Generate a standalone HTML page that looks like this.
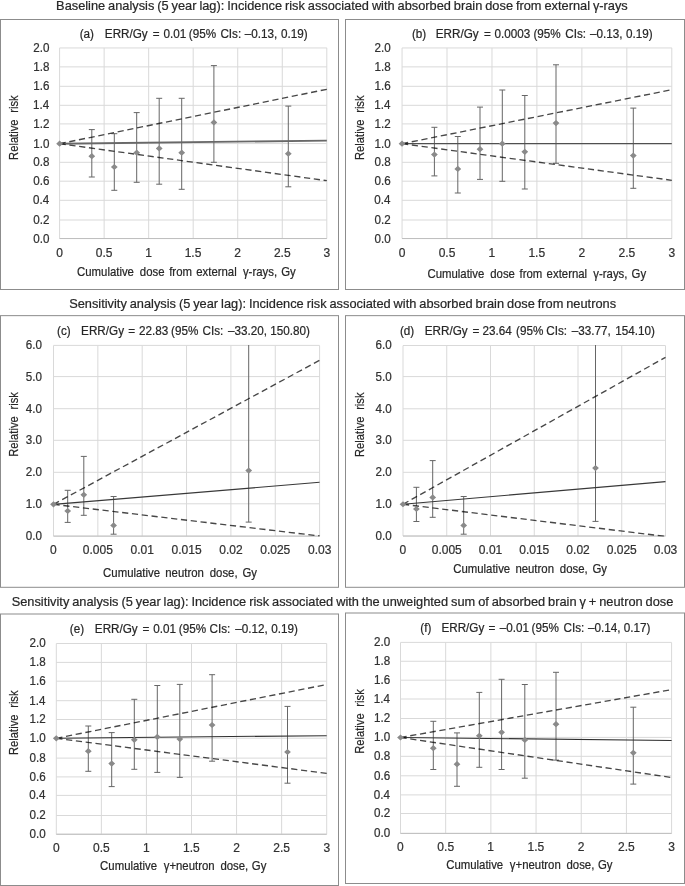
<!DOCTYPE html><html><head><meta charset="utf-8"><title>Relative risk charts</title>
<style>html,body{margin:0;padding:0;background:#fff;}svg{display:block;will-change:transform;} text{font-family:"Liberation Sans", sans-serif;stroke:#333;stroke-width:0.22px;paint-order:stroke;}</style></head><body>
<svg width="685" height="886" viewBox="0 0 685 886" font-family='"Liberation Sans", sans-serif'>
<rect x="0" y="0" width="685" height="886" fill="#fff"/>
<text transform="translate(56.10,9.80)" font-size="12.8" fill="#262626" word-spacing="-0.626">Baseline analysis (5 year lag): Incidence risk associated with absorbed brain dose from external γ-rays</text>
<text transform="translate(69.17,307.80)" font-size="12.8" fill="#262626" word-spacing="-0.610">Sensitivity analysis (5 year lag): Incidence risk associated with absorbed brain dose from neutrons</text>
<text transform="translate(11.68,605.50)" font-size="12.8" fill="#262626" word-spacing="-0.605">Sensitivity analysis (5 year lag): Incidence risk associated with the unweighted sum of absorbed brain γ + neutron dose</text>
<g id="panel-a">
<rect x="0.5" y="19.5" width="338.0" height="270.0" fill="#fff" stroke="#8c8c8c" stroke-width="1"/>
<path d="M59.60 238.60H326.80M59.60 220.00H326.80M59.60 200.30H326.80M59.60 181.20H326.80M59.60 162.30H326.80M59.60 143.60H326.80M59.60 123.90H326.80M59.60 105.30H326.80M59.60 86.30H326.80M59.60 66.86H326.80M59.60 47.95H326.80M59.60 47.90V238.50M104.13 47.90V238.50M148.67 47.90V238.50M193.20 47.90V238.50M237.73 47.90V238.50M282.27 47.90V238.50M326.80 47.90V238.50" stroke="#d9d9d9" stroke-width="1" fill="none"/>
<path d="M59.60 238.50H326.80" stroke="#bfbfbf" stroke-width="1" fill="none"/>
<text transform="translate(33.23,242.50) scale(0.97,1)" font-size="12" fill="#303030">0.0</text>
<text transform="translate(33.35,223.90) scale(0.97,1)" font-size="12" fill="#303030">0.2</text>
<text transform="translate(33.11,204.20) scale(0.97,1)" font-size="12" fill="#303030">0.4</text>
<text transform="translate(33.35,185.10) scale(0.97,1)" font-size="12" fill="#303030">0.6</text>
<text transform="translate(33.35,166.20) scale(0.97,1)" font-size="12" fill="#303030">0.8</text>
<text transform="translate(33.23,147.50) scale(0.97,1)" font-size="12" fill="#303030">1.0</text>
<text transform="translate(33.35,127.80) scale(0.97,1)" font-size="12" fill="#303030">1.2</text>
<text transform="translate(33.11,109.20) scale(0.97,1)" font-size="12" fill="#303030">1.4</text>
<text transform="translate(33.35,90.20) scale(0.97,1)" font-size="12" fill="#303030">1.6</text>
<text transform="translate(33.35,70.76) scale(0.97,1)" font-size="12" fill="#303030">1.8</text>
<text transform="translate(33.23,51.85) scale(0.97,1)" font-size="12" fill="#303030">2.0</text>
<text transform="translate(56.22,257.40)" font-size="12" fill="#303030">0</text>
<text transform="translate(95.82,257.40)" font-size="12" fill="#303030">0.5</text>
<text transform="translate(145.16,257.40)" font-size="12" fill="#303030">1</text>
<text transform="translate(184.70,257.40)" font-size="12" fill="#303030">1.5</text>
<text transform="translate(234.35,257.40)" font-size="12" fill="#303030">2</text>
<text transform="translate(273.89,257.40)" font-size="12" fill="#303030">2.5</text>
<text transform="translate(323.48,257.40)" font-size="12" fill="#303030">3</text>
<text transform="translate(79.67,38.00) scale(0.975,1)" font-size="12" fill="#262626">(a)</text>
<text transform="translate(104.83,38.00) scale(0.975,1)" font-size="12" fill="#262626"><tspan x="-0.00">ERR/Gy</tspan><tspan x="49.20">=</tspan><tspan x="60.29">0.01</tspan><tspan x="86.20">(95%</tspan><tspan x="118.53">CIs:</tspan><tspan x="143.56">–0.13,</tspan><tspan x="180.71">0.19)</tspan></text>
<text transform="translate(77.01,275.60) scale(0.95,1)" font-size="12" fill="#262626"><tspan x="0.00">Cumulative</tspan><tspan x="66.13">dose</tspan><tspan x="97.03">from</tspan><tspan x="125.49">external</tspan><tspan x="174.63">γ-rays,</tspan><tspan x="214.95">Gy</tspan></text>
<text transform="translate(18.00,159.94) rotate(-90) scale(0.935,1)" font-size="12" fill="#262626"><tspan x="0.00">Relative</tspan><tspan x="50.46">risk</tspan></text>
<defs><clipPath id="clip-a"><rect x="55.6" y="47.4" width="275.2" height="191.6"/></clipPath></defs>
<g clip-path="url(#clip-a)">
<path d="M91.80 129.60V177.00M88.80 129.60H94.80M88.80 177.00H94.80M114.30 133.70V190.30M111.30 133.70H117.30M111.30 190.30H117.30M136.70 112.60V182.30M133.70 112.60H139.70M133.70 182.30H139.70M159.20 98.30V184.20M156.20 98.30H162.20M156.20 184.20H162.20M181.70 98.30V189.30M178.70 98.30H184.70M178.70 189.30H184.70M213.90 65.60V162.30M210.90 65.60H216.90M210.90 162.30H216.90M288.30 106.10V186.80M285.30 106.10H291.30M285.30 186.80H291.30" stroke="#666666" stroke-width="1" fill="none"/>
<path d="M59.60 143.70L326.80 140.60" stroke="#686868" stroke-width="1.9" fill="none"/>
<path d="M59.60 143.70L326.80 89.30" stroke="#000" stroke-opacity="0.72" stroke-width="1.35" stroke-dasharray="6.2 3.67" fill="none"/>
<path d="M59.60 143.70L326.80 180.70" stroke="#000" stroke-opacity="0.72" stroke-width="1.35" stroke-dasharray="6.2 3.67" fill="none"/>
<path d="M59.60 140.60L63.00 143.70L59.60 146.80L56.20 143.70ZM91.80 153.10L95.20 156.20L91.80 159.30L88.40 156.20ZM114.30 163.90L117.70 167.00L114.30 170.10L110.90 167.00ZM136.70 149.60L140.10 152.70L136.70 155.80L133.30 152.70ZM159.20 145.30L162.60 148.40L159.20 151.50L155.80 148.40ZM181.70 149.60L185.10 152.70L181.70 155.80L178.30 152.70ZM213.90 119.30L217.30 122.40L213.90 125.50L210.50 122.40ZM288.30 150.60L291.70 153.70L288.30 156.80L284.90 153.70Z" fill="#8a8a8a"/>
</g>
</g>
<g id="panel-b">
<rect x="345.5" y="19.5" width="339.0" height="270.0" fill="#fff" stroke="#8c8c8c" stroke-width="1"/>
<path d="M402.05 238.60H671.80M402.05 220.00H671.80M402.05 200.30H671.80M402.05 181.20H671.80M402.05 162.30H671.80M402.05 143.60H671.80M402.05 123.90H671.80M402.05 105.30H671.80M402.05 86.30H671.80M402.05 66.86H671.80M402.05 47.95H671.80M402.05 47.90V238.50M447.01 47.90V238.50M491.97 47.90V238.50M536.92 47.90V238.50M581.88 47.90V238.50M626.84 47.90V238.50M671.80 47.90V238.50" stroke="#d9d9d9" stroke-width="1" fill="none"/>
<path d="M402.05 238.50H671.80" stroke="#bfbfbf" stroke-width="1" fill="none"/>
<text transform="translate(374.43,242.50) scale(0.97,1)" font-size="12" fill="#303030">0.0</text>
<text transform="translate(374.55,223.90) scale(0.97,1)" font-size="12" fill="#303030">0.2</text>
<text transform="translate(374.31,204.20) scale(0.97,1)" font-size="12" fill="#303030">0.4</text>
<text transform="translate(374.55,185.10) scale(0.97,1)" font-size="12" fill="#303030">0.6</text>
<text transform="translate(374.55,166.20) scale(0.97,1)" font-size="12" fill="#303030">0.8</text>
<text transform="translate(374.43,147.50) scale(0.97,1)" font-size="12" fill="#303030">1.0</text>
<text transform="translate(374.55,127.80) scale(0.97,1)" font-size="12" fill="#303030">1.2</text>
<text transform="translate(374.31,109.20) scale(0.97,1)" font-size="12" fill="#303030">1.4</text>
<text transform="translate(374.55,90.20) scale(0.97,1)" font-size="12" fill="#303030">1.6</text>
<text transform="translate(374.55,70.76) scale(0.97,1)" font-size="12" fill="#303030">1.8</text>
<text transform="translate(374.43,51.85) scale(0.97,1)" font-size="12" fill="#303030">2.0</text>
<text transform="translate(398.67,257.20)" font-size="12" fill="#303030">0</text>
<text transform="translate(438.69,257.20)" font-size="12" fill="#303030">0.5</text>
<text transform="translate(488.46,257.20)" font-size="12" fill="#303030">1</text>
<text transform="translate(528.42,257.20)" font-size="12" fill="#303030">1.5</text>
<text transform="translate(578.50,257.20)" font-size="12" fill="#303030">2</text>
<text transform="translate(618.46,257.20)" font-size="12" fill="#303030">2.5</text>
<text transform="translate(668.48,257.20)" font-size="12" fill="#303030">3</text>
<text transform="translate(411.97,38.00) scale(0.975,1)" font-size="12" fill="#262626">(b)</text>
<text transform="translate(435.82,38.00) scale(0.975,1)" font-size="12" fill="#262626"><tspan x="0.00">ERR/Gy</tspan><tspan x="49.40">=</tspan><tspan x="60.29">0.0003</tspan><tspan x="100.15">(95%</tspan><tspan x="132.68">CIs:</tspan><tspan x="158.03">–0.13,</tspan><tspan x="194.96">0.19)</tspan></text>
<text transform="translate(427.41,277.60) scale(0.95,1)" font-size="12" fill="#262626"><tspan x="0.00">Cumulative</tspan><tspan x="66.12">dose</tspan><tspan x="97.03">from</tspan><tspan x="125.49">external</tspan><tspan x="174.62">γ-rays,</tspan><tspan x="214.95">Gy</tspan></text>
<text transform="translate(364.10,160.03) rotate(-90) scale(0.935,1)" font-size="12" fill="#262626"><tspan x="0.00">Relative</tspan><tspan x="50.46">risk</tspan></text>
<defs><clipPath id="clip-b"><rect x="398.05" y="47.4" width="277.74999999999994" height="191.6"/></clipPath></defs>
<g clip-path="url(#clip-b)">
<path d="M434.40 127.30V175.90M431.40 127.30H437.40M431.40 175.90H437.40M457.80 136.50V193.00M454.80 136.50H460.80M454.80 193.00H460.80M480.00 107.10V179.40M477.00 107.10H483.00M477.00 179.40H483.00M502.30 90.00V181.30M499.30 90.00H505.30M499.30 181.30H505.30M524.80 95.50V189.00M521.80 95.50H527.80M521.80 189.00H527.80M556.00 64.80V163.30M553.00 64.80H559.00M553.00 163.30H559.00M633.30 108.10V188.30M630.30 108.10H636.30M630.30 188.30H636.30" stroke="#666666" stroke-width="1" fill="none"/>
<path d="M402.05 143.70L671.80 143.65" stroke="#505050" stroke-width="1.3" fill="none"/>
<path d="M402.05 143.70L671.80 89.70" stroke="#000" stroke-opacity="0.72" stroke-width="1.35" stroke-dasharray="6.2 3.67" fill="none"/>
<path d="M402.05 143.70L671.80 180.30" stroke="#000" stroke-opacity="0.72" stroke-width="1.35" stroke-dasharray="6.2 3.67" fill="none"/>
<path d="M402.05 140.60L405.45 143.70L402.05 146.80L398.65 143.70ZM434.40 151.50L437.80 154.60L434.40 157.70L431.00 154.60ZM457.80 165.80L461.20 168.90L457.80 172.00L454.40 168.90ZM480.00 146.10L483.40 149.20L480.00 152.30L476.60 149.20ZM502.30 140.60L505.70 143.70L502.30 146.80L498.90 143.70ZM524.80 148.70L528.20 151.80L524.80 154.90L521.40 151.80ZM556.00 120.00L559.40 123.10L556.00 126.20L552.60 123.10ZM633.30 152.50L636.70 155.60L633.30 158.70L629.90 155.60Z" fill="#8a8a8a"/>
</g>
</g>
<g id="panel-c">
<rect x="0.5" y="315.65" width="338.0" height="271.65" fill="#fff" stroke="#8c8c8c" stroke-width="1"/>
<path d="M53.50 536.20H319.60M53.50 503.80H319.60M53.50 472.30H319.60M53.50 440.30H319.60M53.50 408.70H319.60M53.50 376.60H319.60M53.50 345.40H319.60M53.50 345.50V536.10M97.85 345.50V536.10M142.20 345.50V536.10M186.55 345.50V536.10M230.90 345.50V536.10M275.25 345.50V536.10M319.60 345.50V536.10" stroke="#d9d9d9" stroke-width="1" fill="none"/>
<path d="M53.50 536.10H319.60" stroke="#bfbfbf" stroke-width="1" fill="none"/>
<text transform="translate(25.83,540.10) scale(0.97,1)" font-size="12" fill="#303030">0.0</text>
<text transform="translate(25.83,507.70) scale(0.97,1)" font-size="12" fill="#303030">1.0</text>
<text transform="translate(25.83,476.20) scale(0.97,1)" font-size="12" fill="#303030">2.0</text>
<text transform="translate(25.83,444.20) scale(0.97,1)" font-size="12" fill="#303030">3.0</text>
<text transform="translate(25.83,412.60) scale(0.97,1)" font-size="12" fill="#303030">4.0</text>
<text transform="translate(25.83,380.50) scale(0.97,1)" font-size="12" fill="#303030">5.0</text>
<text transform="translate(25.83,349.30) scale(0.97,1)" font-size="12" fill="#303030">6.0</text>
<text transform="translate(50.12,554.20)" font-size="12" fill="#303030">0</text>
<text transform="translate(82.85,554.20)" font-size="12" fill="#303030">0.005</text>
<text transform="translate(130.57,554.20)" font-size="12" fill="#303030">0.01</text>
<text transform="translate(171.55,554.20)" font-size="12" fill="#303030">0.015</text>
<text transform="translate(219.27,554.20)" font-size="12" fill="#303030">0.02</text>
<text transform="translate(260.25,554.20)" font-size="12" fill="#303030">0.025</text>
<text transform="translate(307.97,554.20)" font-size="12" fill="#303030">0.03</text>
<text transform="translate(57.07,335.00) scale(0.975,1)" font-size="12" fill="#262626">(c)</text>
<text transform="translate(81.12,335.00) scale(0.975,1)" font-size="12" fill="#262626"><tspan x="-0.00">ERR/Gy</tspan><tspan x="48.27">=</tspan><tspan x="59.45">22.83</tspan><tspan x="92.25">(95%</tspan><tspan x="124.58">CIs:</tspan><tspan x="150.74">–33.20,</tspan><tspan x="194.07">150.80)</tspan></text>
<text transform="translate(103.11,577.10) scale(0.95,1)" font-size="12" fill="#262626"><tspan x="0.00">Cumulative</tspan><tspan x="65.45">neutron</tspan><tspan x="112.23">dose,</tspan><tspan x="146.63">Gy</tspan></text>
<text transform="translate(18.00,456.74) rotate(-90) scale(0.935,1)" font-size="12" fill="#262626"><tspan x="0.00">Relative</tspan><tspan x="50.46">risk</tspan></text>
<defs><clipPath id="clip-c"><rect x="49.5" y="345.0" width="274.1" height="191.60000000000002"/></clipPath></defs>
<g clip-path="url(#clip-c)">
<path d="M67.70 490.30V522.40M64.70 490.30H70.70M64.70 522.40H70.70M83.80 456.40V515.30M80.80 456.40H86.80M80.80 515.30H86.80M113.60 496.50V534.20M110.60 496.50H116.60M110.60 534.20H116.60M248.70 343.50V522.10M245.70 522.10H251.70" stroke="#666666" stroke-width="1" fill="none"/>
<path d="M53.50 504.33L319.60 482.30" stroke="#383838" stroke-width="1.15" fill="none"/>
<path d="M53.50 504.33L319.60 360.30" stroke="#000" stroke-opacity="0.72" stroke-width="1.35" stroke-dasharray="6.2 3.67" fill="none"/>
<path d="M53.50 504.33L319.60 535.97" stroke="#000" stroke-opacity="0.72" stroke-width="1.35" stroke-dasharray="6.2 3.67" fill="none"/>
<path d="M53.50 501.23L56.90 504.33L53.50 507.43L50.10 504.33ZM67.70 507.90L71.10 511.00L67.70 514.10L64.30 511.00ZM83.80 491.70L87.20 494.80L83.80 497.90L80.40 494.80ZM113.60 522.30L117.00 525.40L113.60 528.50L110.20 525.40ZM248.70 467.50L252.10 470.60L248.70 473.70L245.30 470.60Z" fill="#8a8a8a"/>
</g>
</g>
<g id="panel-d">
<rect x="345.5" y="315.65" width="339.0" height="271.65" fill="#fff" stroke="#8c8c8c" stroke-width="1"/>
<path d="M403.00 536.10H665.50M403.00 503.80H665.50M403.00 472.30H665.50M403.00 440.30H665.50M403.00 408.80H665.50M403.00 376.60H665.50M403.00 345.50H665.50M403.00 345.60V536.00M446.75 345.60V536.00M490.50 345.60V536.00M534.25 345.60V536.00M578.00 345.60V536.00M621.75 345.60V536.00M665.50 345.60V536.00" stroke="#d9d9d9" stroke-width="1" fill="none"/>
<path d="M403.00 536.00H665.50" stroke="#bfbfbf" stroke-width="1" fill="none"/>
<text transform="translate(375.43,540.00) scale(0.97,1)" font-size="12" fill="#303030">0.0</text>
<text transform="translate(375.43,507.70) scale(0.97,1)" font-size="12" fill="#303030">1.0</text>
<text transform="translate(375.43,476.20) scale(0.97,1)" font-size="12" fill="#303030">2.0</text>
<text transform="translate(375.43,444.20) scale(0.97,1)" font-size="12" fill="#303030">3.0</text>
<text transform="translate(375.43,412.70) scale(0.97,1)" font-size="12" fill="#303030">4.0</text>
<text transform="translate(375.43,380.50) scale(0.97,1)" font-size="12" fill="#303030">5.0</text>
<text transform="translate(375.43,349.40) scale(0.97,1)" font-size="12" fill="#303030">6.0</text>
<text transform="translate(399.62,554.10)" font-size="12" fill="#303030">0</text>
<text transform="translate(431.75,554.10)" font-size="12" fill="#303030">0.005</text>
<text transform="translate(478.87,554.10)" font-size="12" fill="#303030">0.01</text>
<text transform="translate(519.25,554.10)" font-size="12" fill="#303030">0.015</text>
<text transform="translate(566.37,554.10)" font-size="12" fill="#303030">0.02</text>
<text transform="translate(606.75,554.10)" font-size="12" fill="#303030">0.025</text>
<text transform="translate(653.87,554.10)" font-size="12" fill="#303030">0.03</text>
<text transform="translate(399.97,335.00) scale(0.975,1)" font-size="12" fill="#262626">(d)</text>
<text transform="translate(424.72,335.00) scale(0.975,1)" font-size="12" fill="#262626"><tspan x="0.00">ERR/Gy</tspan><tspan x="48.89">=</tspan><tspan x="59.35">23.64</tspan><tspan x="93.69">(95%</tspan><tspan x="124.58">CIs:</tspan><tspan x="150.74">–33.77,</tspan><tspan x="195.51">154.10)</tspan></text>
<text transform="translate(453.21,572.70) scale(0.95,1)" font-size="12" fill="#262626"><tspan x="0.00">Cumulative</tspan><tspan x="65.45">neutron</tspan><tspan x="112.23">dose,</tspan><tspan x="146.63">Gy</tspan></text>
<text transform="translate(364.30,457.04) rotate(-90) scale(0.935,1)" font-size="12" fill="#262626"><tspan x="0.00">Relative</tspan><tspan x="50.46">risk</tspan></text>
<defs><clipPath id="clip-d"><rect x="399.0" y="345.1" width="270.5" height="191.39999999999998"/></clipPath></defs>
<g clip-path="url(#clip-d)">
<path d="M416.40 487.30V521.50M413.40 487.30H419.40M413.40 521.50H419.40M432.70 460.60V517.30M429.70 460.60H435.70M429.70 517.30H435.70M463.70 496.50V534.20M460.70 496.50H466.70M460.70 534.20H466.70M595.50 343.60V521.40M592.50 521.40H598.50" stroke="#666666" stroke-width="1" fill="none"/>
<path d="M403.00 504.27L665.50 481.60" stroke="#383838" stroke-width="1.15" fill="none"/>
<path d="M403.00 504.27L665.50 357.30" stroke="#000" stroke-opacity="0.72" stroke-width="1.35" stroke-dasharray="6.2 3.67" fill="none"/>
<path d="M403.00 504.27L665.50 536.41" stroke="#000" stroke-opacity="0.72" stroke-width="1.35" stroke-dasharray="6.2 3.67" fill="none"/>
<path d="M403.00 501.17L406.40 504.27L403.00 507.37L399.60 504.27ZM416.40 505.90L419.80 509.00L416.40 512.10L413.00 509.00ZM432.70 494.30L436.10 497.40L432.70 500.50L429.30 497.40ZM463.70 522.30L467.10 525.40L463.70 528.50L460.30 525.40ZM595.50 465.00L598.90 468.10L595.50 471.20L592.10 468.10Z" fill="#8a8a8a"/>
</g>
</g>
<g id="panel-e">
<rect x="0.5" y="614.0" width="338.0" height="271.5" fill="#fff" stroke="#8c8c8c" stroke-width="1"/>
<path d="M56.30 834.10H326.70M56.30 815.50H326.70M56.30 795.40H326.70M56.30 776.90H326.70M56.30 758.10H326.70M56.30 738.20H326.70M56.30 719.50H326.70M56.30 700.70H326.70M56.30 681.20H326.70M56.30 662.40H326.70M56.30 643.50H326.70M56.30 643.50V834.30M101.37 643.50V834.30M146.43 643.50V834.30M191.50 643.50V834.30M236.57 643.50V834.30M281.63 643.50V834.30M326.70 643.50V834.30" stroke="#d9d9d9" stroke-width="1" fill="none"/>
<path d="M56.30 834.30H326.70" stroke="#bfbfbf" stroke-width="1" fill="none"/>
<text transform="translate(29.43,838.00) scale(0.97,1)" font-size="12" fill="#303030">0.0</text>
<text transform="translate(29.55,819.40) scale(0.97,1)" font-size="12" fill="#303030">0.2</text>
<text transform="translate(29.31,799.30) scale(0.97,1)" font-size="12" fill="#303030">0.4</text>
<text transform="translate(29.55,780.80) scale(0.97,1)" font-size="12" fill="#303030">0.6</text>
<text transform="translate(29.55,762.00) scale(0.97,1)" font-size="12" fill="#303030">0.8</text>
<text transform="translate(29.43,742.10) scale(0.97,1)" font-size="12" fill="#303030">1.0</text>
<text transform="translate(29.55,723.40) scale(0.97,1)" font-size="12" fill="#303030">1.2</text>
<text transform="translate(29.31,704.60) scale(0.97,1)" font-size="12" fill="#303030">1.4</text>
<text transform="translate(29.55,685.10) scale(0.97,1)" font-size="12" fill="#303030">1.6</text>
<text transform="translate(29.55,666.30) scale(0.97,1)" font-size="12" fill="#303030">1.8</text>
<text transform="translate(29.43,647.40) scale(0.97,1)" font-size="12" fill="#303030">2.0</text>
<text transform="translate(52.92,852.10)" font-size="12" fill="#303030">0</text>
<text transform="translate(93.05,852.10)" font-size="12" fill="#303030">0.5</text>
<text transform="translate(142.93,852.10)" font-size="12" fill="#303030">1</text>
<text transform="translate(183.00,852.10)" font-size="12" fill="#303030">1.5</text>
<text transform="translate(233.18,852.10)" font-size="12" fill="#303030">2</text>
<text transform="translate(273.26,852.10)" font-size="12" fill="#303030">2.5</text>
<text transform="translate(323.38,852.10)" font-size="12" fill="#303030">3</text>
<text transform="translate(69.87,633.00) scale(0.975,1)" font-size="12" fill="#262626">(e)</text>
<text transform="translate(94.83,633.00) scale(0.975,1)" font-size="12" fill="#262626"><tspan x="-0.00">ERR/Gy</tspan><tspan x="48.79">=</tspan><tspan x="59.88">0.01</tspan><tspan x="86.10">(95%</tspan><tspan x="117.71">CIs:</tspan><tspan x="144.08">–0.12,</tspan><tspan x="181.01">0.19)</tspan></text>
<text transform="translate(100.11,869.70) scale(0.95,1)" font-size="12" fill="#262626"><tspan x="0.00">Cumulative</tspan><tspan x="66.94">γ+neutron</tspan><tspan x="126.65">dose,</tspan><tspan x="159.68">Gy</tspan></text>
<text transform="translate(18.30,755.03) rotate(-90) scale(0.935,1)" font-size="12" fill="#262626"><tspan x="-0.00">Relative</tspan><tspan x="50.46">risk</tspan></text>
<defs><clipPath id="clip-e"><rect x="52.3" y="643.0" width="278.4" height="191.79999999999995"/></clipPath></defs>
<g clip-path="url(#clip-e)">
<path d="M88.30 726.00V771.30M85.30 726.00H91.30M85.30 771.30H91.30M111.70 732.60V786.60M108.70 732.60H114.70M108.70 786.60H114.70M134.30 699.30V769.30M131.30 699.30H137.30M131.30 769.30H137.30M157.30 685.50V772.40M154.30 685.50H160.30M154.30 772.40H160.30M179.80 684.40V777.40M176.80 684.40H182.80M176.80 777.40H182.80M212.10 674.70V761.20M209.10 674.70H215.10M209.10 761.20H215.10M287.50 706.40V783.20M284.50 706.40H290.50M284.50 783.20H290.50" stroke="#666666" stroke-width="1" fill="none"/>
<path d="M56.30 738.30L326.70 735.65" stroke="#303030" stroke-width="1.05" fill="none"/>
<path d="M56.30 738.30L326.70 684.50" stroke="#000" stroke-opacity="0.72" stroke-width="1.35" stroke-dasharray="6.2 3.67" fill="none"/>
<path d="M56.30 738.30L326.70 773.40" stroke="#000" stroke-opacity="0.72" stroke-width="1.35" stroke-dasharray="6.2 3.67" fill="none"/>
<path d="M56.30 735.20L59.70 738.30L56.30 741.40L52.90 738.30ZM88.30 748.10L91.70 751.20L88.30 754.30L84.90 751.20ZM111.70 760.50L115.10 763.60L111.70 766.70L108.30 763.60ZM134.30 736.70L137.70 739.80L134.30 742.90L130.90 739.80ZM157.30 733.80L160.70 736.90L157.30 740.00L153.90 736.90ZM179.80 736.00L183.20 739.10L179.80 742.20L176.40 739.10ZM212.10 721.90L215.50 725.00L212.10 728.10L208.70 725.00ZM287.50 748.90L290.90 752.00L287.50 755.10L284.10 752.00Z" fill="#8a8a8a"/>
</g>
</g>
<g id="panel-f">
<rect x="345.5" y="613.0" width="339.0" height="270.5" fill="#fff" stroke="#8c8c8c" stroke-width="1"/>
<path d="M400.50 833.40H671.60M400.50 813.50H671.60M400.50 794.90H671.60M400.50 775.80H671.60M400.50 756.30H671.60M400.50 737.40H671.60M400.50 718.50H671.60M400.50 699.00H671.60M400.50 680.20H671.60M400.50 661.25H671.60M400.50 642.40H671.60M400.50 642.50V833.40M445.68 642.50V833.40M490.87 642.50V833.40M536.05 642.50V833.40M581.23 642.50V833.40M626.42 642.50V833.40M671.60 642.50V833.40" stroke="#d9d9d9" stroke-width="1" fill="none"/>
<path d="M400.50 833.40H671.60" stroke="#bfbfbf" stroke-width="1" fill="none"/>
<text transform="translate(373.93,837.30) scale(0.97,1)" font-size="12" fill="#303030">0.0</text>
<text transform="translate(374.05,817.40) scale(0.97,1)" font-size="12" fill="#303030">0.2</text>
<text transform="translate(373.81,798.80) scale(0.97,1)" font-size="12" fill="#303030">0.4</text>
<text transform="translate(374.05,779.70) scale(0.97,1)" font-size="12" fill="#303030">0.6</text>
<text transform="translate(374.05,760.20) scale(0.97,1)" font-size="12" fill="#303030">0.8</text>
<text transform="translate(373.93,741.30) scale(0.97,1)" font-size="12" fill="#303030">1.0</text>
<text transform="translate(374.05,722.40) scale(0.97,1)" font-size="12" fill="#303030">1.2</text>
<text transform="translate(373.81,702.90) scale(0.97,1)" font-size="12" fill="#303030">1.4</text>
<text transform="translate(374.05,684.10) scale(0.97,1)" font-size="12" fill="#303030">1.6</text>
<text transform="translate(374.05,665.15) scale(0.97,1)" font-size="12" fill="#303030">1.8</text>
<text transform="translate(373.93,646.30) scale(0.97,1)" font-size="12" fill="#303030">2.0</text>
<text transform="translate(397.12,850.90)" font-size="12" fill="#303030">0</text>
<text transform="translate(437.37,850.90)" font-size="12" fill="#303030">0.5</text>
<text transform="translate(487.36,850.90)" font-size="12" fill="#303030">1</text>
<text transform="translate(527.55,850.90)" font-size="12" fill="#303030">1.5</text>
<text transform="translate(577.85,850.90)" font-size="12" fill="#303030">2</text>
<text transform="translate(618.04,850.90)" font-size="12" fill="#303030">2.5</text>
<text transform="translate(668.28,850.90)" font-size="12" fill="#303030">3</text>
<text transform="translate(420.27,632.20) scale(0.975,1)" font-size="12" fill="#262626">(f)</text>
<text transform="translate(441.42,632.20) scale(0.975,1)" font-size="12" fill="#262626"><tspan x="0.00">ERR/Gy</tspan><tspan x="48.17">=</tspan><tspan x="59.77">–0.01</tspan><tspan x="92.46">(95%</tspan><tspan x="125.20">CIs:</tspan><tspan x="150.33">–0.14,</tspan><tspan x="186.96">0.17)</tspan></text>
<text transform="translate(446.21,868.80) scale(0.95,1)" font-size="12" fill="#262626"><tspan x="0.00">Cumulative</tspan><tspan x="66.94">γ+neutron</tspan><tspan x="126.65">dose,</tspan><tspan x="159.68">Gy</tspan></text>
<text transform="translate(364.10,753.83) rotate(-90) scale(0.935,1)" font-size="12" fill="#262626"><tspan x="-0.00">Relative</tspan><tspan x="50.46">risk</tspan></text>
<defs><clipPath id="clip-f"><rect x="396.5" y="642.0" width="279.1" height="191.89999999999998"/></clipPath></defs>
<g clip-path="url(#clip-f)">
<path d="M433.30 721.30V769.50M430.30 721.30H436.30M430.30 769.50H436.30M457.00 732.90V786.30M454.00 732.90H460.00M454.00 786.30H460.00M479.30 692.40V767.30M476.30 692.40H482.30M476.30 767.30H482.30M501.60 679.30V769.50M498.60 679.30H504.60M498.60 769.50H504.60M524.80 684.50V778.20M521.80 684.50H527.80M521.80 778.20H527.80M556.00 672.30V760.10M553.00 672.30H559.00M553.00 760.10H559.00M633.30 707.20V784.10M630.30 707.20H636.30M630.30 784.10H636.30" stroke="#666666" stroke-width="1" fill="none"/>
<path d="M400.50 737.50L671.60 740.40" stroke="#303030" stroke-width="1.05" fill="none"/>
<path d="M400.50 737.50L671.60 689.60" stroke="#000" stroke-opacity="0.72" stroke-width="1.35" stroke-dasharray="6.2 3.67" fill="none"/>
<path d="M400.50 737.50L671.60 777.50" stroke="#000" stroke-opacity="0.72" stroke-width="1.35" stroke-dasharray="6.2 3.67" fill="none"/>
<path d="M400.50 734.40L403.90 737.50L400.50 740.60L397.10 737.50ZM433.30 745.10L436.70 748.20L433.30 751.30L429.90 748.20ZM457.00 761.10L460.40 764.20L457.00 767.30L453.60 764.20ZM479.30 732.70L482.70 735.80L479.30 738.90L475.90 735.80ZM501.60 729.20L505.00 732.30L501.60 735.40L498.20 732.30ZM524.80 736.80L528.20 739.90L524.80 743.00L521.40 739.90ZM556.00 721.10L559.40 724.20L556.00 727.30L552.60 724.20ZM633.30 749.70L636.70 752.80L633.30 755.90L629.90 752.80Z" fill="#8a8a8a"/>
</g>
</g>
</svg></body></html>
